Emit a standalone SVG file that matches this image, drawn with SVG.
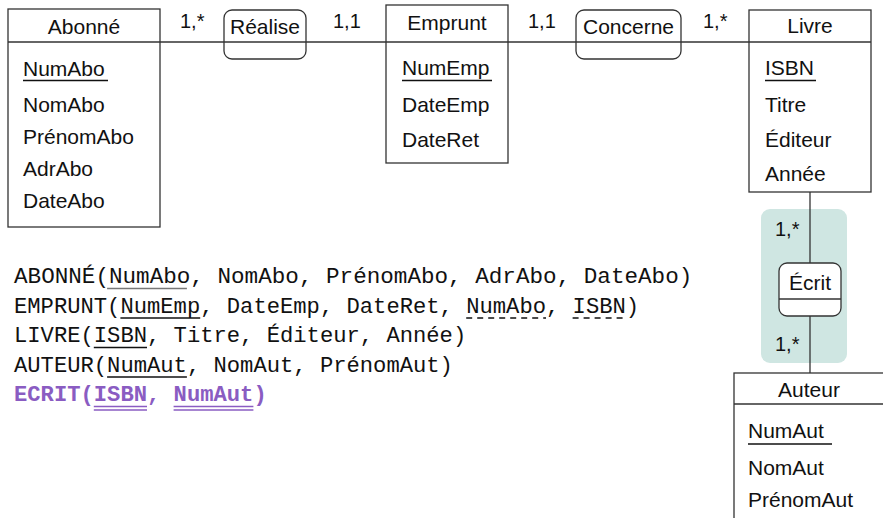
<svg xmlns="http://www.w3.org/2000/svg" width="883" height="518" viewBox="0 0 883 518">
<style>
.box{fill:#fff;stroke:#333;stroke-width:1.3}
.rel{fill:none;stroke:#333;stroke-width:1.3}
.ln{stroke:#333;stroke-width:1.3;fill:none}
.t{font-family:"Liberation Sans",Arial,sans-serif;font-size:21px;fill:#111}
.k{font-size:20px}
.c{text-anchor:middle}
.ul{stroke:#111;stroke-width:1.3}
.m{font-family:"Liberation Mono","DejaVu Sans Mono",monospace;font-size:22px;fill:#111}
.p{fill:#8a5cc2;font-weight:bold}
.pu{stroke:#8a5cc2;stroke-width:1.3}
.d{stroke-dasharray:6 5}
</style>
<rect x="761" y="209" width="86" height="154" rx="9" fill="#cfe6e2"/>
<g id="connectors">
<line class="ln" x1="160" y1="42" x2="749" y2="42"/>
<line class="ln" x1="810" y1="192" x2="810" y2="373"/>
</g>
<g id="abonne">
<rect class="box" x="8" y="9" width="152" height="218"/>
<line class="ln" x1="8" y1="42" x2="160" y2="42"/>
<text class="t c" x="84" y="34">Abonné</text>
<text class="t" x="23" y="76">NumAbo</text>
<line class="ul" x1="23" y1="80.5" x2="108" y2="80.5"/>
<text class="t" x="23" y="112">NomAbo</text>
<text class="t" x="23" y="144">PrénomAbo</text>
<text class="t" x="23" y="176">AdrAbo</text>
<text class="t" x="23" y="208">DateAbo</text>
</g>
<g id="realise">
<rect class="rel" x="224" y="10" width="82" height="49" rx="8"/>
<text class="t c" x="265" y="34">Réalise</text>
</g>
<g id="emprunt">
<rect class="box" x="386" y="5" width="122" height="158"/>
<line class="ln" x1="386" y1="42" x2="508" y2="42"/>
<text class="t c" x="447" y="30">Emprunt</text>
<text class="t" x="402" y="75">NumEmp</text>
<line class="ul" x1="402" y1="80.5" x2="492" y2="80.5"/>
<text class="t" x="402" y="112">DateEmp</text>
<text class="t" x="402" y="147">DateRet</text>
</g>
<g id="concerne">
<rect class="rel" x="576" y="10" width="105" height="49" rx="8"/>
<text class="t c" x="628.5" y="34">Concerne</text>
</g>
<g id="livre">
<rect class="box" x="749" y="10" width="122" height="182"/>
<line class="ln" x1="749" y1="42" x2="871" y2="42"/>
<text class="t c" x="810" y="33">Livre</text>
<text class="t" x="765" y="75">ISBN</text>
<line class="ul" x1="765" y1="80.5" x2="816" y2="80.5"/>
<text class="t" x="765" y="112">Titre</text>
<text class="t" x="765" y="147">Éditeur</text>
<text class="t" x="765" y="181">Année</text>
</g>
<g id="ecrit">
<rect x="779" y="263" width="62" height="53" rx="8" fill="#fff" stroke="#333" stroke-width="1.3"/>
<line class="ln" x1="779" y1="299" x2="841" y2="299"/>
<text class="t c" x="810" y="290">Écrit</text>
</g>
<g id="auteur">
<rect class="box" x="734" y="373" width="160" height="160"/>
<line class="ln" x1="734" y1="404" x2="894" y2="404"/>
<text class="t c" x="809" y="397">Auteur</text>
<text class="t" x="748" y="438">NumAut</text>
<line class="ul" x1="748" y1="444" x2="832" y2="444"/>
<text class="t" x="748" y="475">NomAut</text>
<text class="t" x="748" y="507">PrénomAut</text>
</g>
<g id="cardinalities">
<text class="t k" x="180" y="28">1,*</text>
<text class="t k" x="333" y="28">1,1</text>
<text class="t k" x="528" y="28">1,1</text>
<text class="t k" x="703" y="28">1,*</text>
<text class="t k" x="775" y="236">1,*</text>
<text class="t k" x="775" y="351">1,*</text>
</g>
<g id="schema">
<text class="m" x="14" y="283" textLength="678.3" lengthAdjust="spacingAndGlyphs">ABONNÉ(NumAbo, NomAbo, PrénomAbo, AdrAbo, DateAbo)</text>
<line class="ul" x1="107.1" y1="288.5" x2="186.9" y2="288.5" style="stroke:#777"/>
<text class="m" x="14" y="312.5" textLength="625.1" lengthAdjust="spacingAndGlyphs">EMPRUNT(NumEmp, DateEmp, DateRet, NumAbo, ISBN)</text>
<line class="ul" x1="120.4" y1="318" x2="200.2" y2="318"/>
<line class="ul d" x1="466.2" y1="318" x2="546" y2="318"/>
<line class="ul d" x1="572.6" y1="318" x2="625.8" y2="318"/>
<text class="m" x="14" y="342" textLength="452.2" lengthAdjust="spacingAndGlyphs">LIVRE(ISBN, Titre, Éditeur, Année)</text>
<line class="ul" x1="93.8" y1="347.5" x2="147" y2="347.5"/>
<text class="m" x="14" y="371.5" textLength="438.9" lengthAdjust="spacingAndGlyphs">AUTEUR(NumAut, NomAut, PrénomAut)</text>
<line class="ul" x1="107.1" y1="377" x2="186.9" y2="377"/>
<text class="m p" x="14" y="401" textLength="252.7" lengthAdjust="spacingAndGlyphs">ECRIT(ISBN, NumAut)</text>
<line class="pu" x1="93.8" y1="406.5" x2="147" y2="406.5"/>
<line class="pu" x1="93.8" y1="410" x2="147" y2="410"/>
<line class="pu" x1="173.6" y1="406.5" x2="253.4" y2="406.5"/>
<line class="pu" x1="173.6" y1="410" x2="253.4" y2="410"/>
</g>
</svg>
